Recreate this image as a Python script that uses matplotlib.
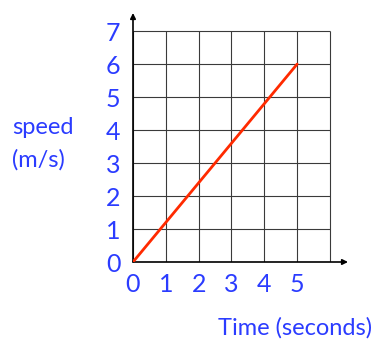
import matplotlib.pyplot as plt

# data
time_s = [0, 5]
speed = [0, 6]
x_ticks = [0, 1, 2, 3, 4, 5]
y_ticks = [0, 1, 2, 3, 4, 5, 6, 7]
grid_x = [0, 1, 2, 3, 4, 5, 6]
grid_y = [0, 1, 2, 3, 4, 5, 6, 7]

blue = '#2b3cff'
font = ['Lato', 'DejaVu Sans']


def main():
    fig = plt.figure(figsize=(3.75, 3.41), dpi=100)
    ax = fig.add_axes([133 / 375, 79 / 341, 215 / 375, 249 / 341])
    ax.set_xlim(0, 6.55)
    ax.set_ylim(0, 7.55)

    # grid only inside 0..6 x 0..7
    ax.vlines(grid_x, 0, 7, color='#3a3a3a', lw=0.8, zorder=1)
    ax.hlines(grid_y, 0, 6, color='#3a3a3a', lw=0.8, zorder=1)

    # axes with arrows
    ax.annotate('', xy=(6.55, 0), xytext=(0, 0),
                arrowprops=dict(arrowstyle='-|>', color='black', lw=1.2,
                                mutation_scale=8, shrinkA=0, shrinkB=0))
    ax.annotate('', xy=(0, 7.55), xytext=(0, 0),
                arrowprops=dict(arrowstyle='-|>', color='black', lw=1.2,
                                mutation_scale=8, shrinkA=0, shrinkB=0))

    ax.plot(time_s, speed, color='#ff2a00', lw=2, zorder=3,
            solid_capstyle='round')

    for s in ax.spines.values():
        s.set_visible(False)
    ax.set_xticks(x_ticks)
    ax.set_yticks(y_ticks)
    ax.tick_params(length=0, labelsize=18, labelcolor=blue)
    ax.tick_params(axis='x', pad=8)
    ax.tick_params(axis='y', pad=9)
    for lab in ax.get_xticklabels() + ax.get_yticklabels():
        lab.set_family(font)

    fig.text(12 / 375, 1 - 127 / 341, 'speed', color=blue, fontsize=17,
             family=font, ha='left', va='center')
    fig.text(12 / 375, 1 - 160 / 341, '(m/s)', color=blue, fontsize=17,
             family=font, ha='left', va='center')
    fig.text(372 / 375, 1 - 328 / 341, 'Time (seconds)', color=blue,
             fontsize=17, family=font, ha='right', va='center')

    fig.savefig('out.png', dpi=100)
    plt.close()


if __name__ == "__main__":
    main()
